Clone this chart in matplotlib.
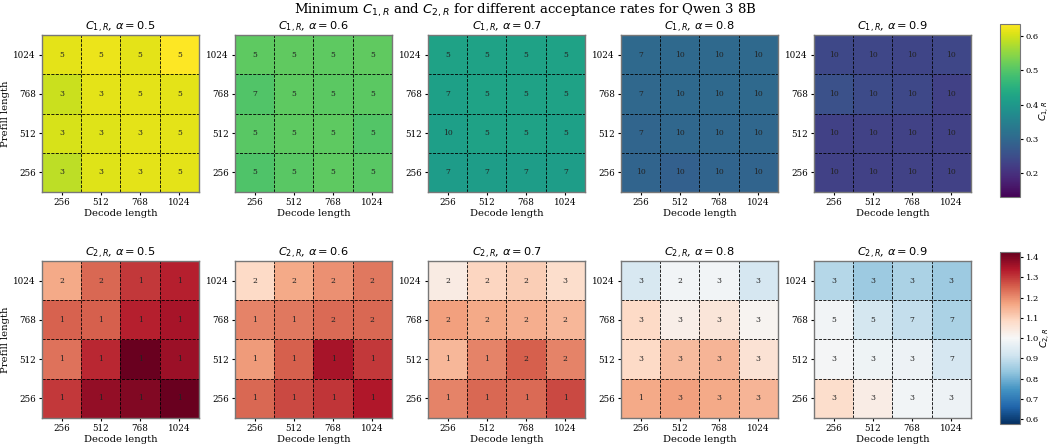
import numpy as np
import matplotlib
matplotlib.use("Agg")
import matplotlib.pyplot as plt

plt.rcParams['font.family'] = 'serif'
plt.rcParams['font.serif'] = ['DejaVu Serif']

lengths = [256, 512, 768, 1024]
alphas = [0.5, 0.6, 0.7, 0.8, 0.9]

# rows = prefill length 256..1024, cols = decode length 256..1024
c1_vals = {
    0.5: [[0.585, 0.610, 0.615, 0.615],
          [0.605, 0.610, 0.615, 0.615],
          [0.595, 0.615, 0.615, 0.615],
          [0.615, 0.620, 0.615, 0.635]],
    0.6: [[0.495, 0.505, 0.510, 0.505],
          [0.505, 0.510, 0.510, 0.500],
          [0.498, 0.510, 0.508, 0.508],
          [0.510, 0.512, 0.510, 0.512]],
    0.7: [[0.410, 0.412, 0.412, 0.412],
          [0.415, 0.420, 0.420, 0.418],
          [0.418, 0.422, 0.420, 0.420],
          [0.420, 0.420, 0.420, 0.420]],
    0.8: [[0.292, 0.285, 0.292, 0.292],
          [0.295, 0.298, 0.298, 0.298],
          [0.300, 0.302, 0.302, 0.302],
          [0.302, 0.302, 0.302, 0.302]],
    0.9: [[0.228, 0.228, 0.230, 0.228],
          [0.228, 0.230, 0.230, 0.228],
          [0.255, 0.245, 0.240, 0.228],
          [0.240, 0.238, 0.235, 0.238]],
}
c1_k = {
    0.5: [[3, 3, 3, 5], [3, 3, 3, 5], [3, 3, 5, 5], [5, 5, 5, 5]],
    0.6: [[5, 5, 5, 5], [5, 5, 5, 5], [7, 5, 5, 5], [5, 5, 5, 5]],
    0.7: [[7, 7, 7, 7], [10, 5, 5, 5], [7, 5, 5, 5], [5, 5, 5, 5]],
    0.8: [[10, 10, 10, 10], [7, 10, 10, 10], [7, 10, 10, 10], [7, 10, 10, 10]],
    0.9: [[10, 10, 10, 10], [10, 10, 10, 10], [10, 10, 10, 10], [10, 10, 10, 10]],
}

c2_vals = {
    0.5: [[1.300, 1.375, 1.395, 1.420],
          [1.230, 1.320, 1.420, 1.365],
          [1.250, 1.255, 1.330, 1.350],
          [1.160, 1.245, 1.300, 1.330]],
    0.6: [[1.245, 1.280, 1.305, 1.340],
          [1.180, 1.255, 1.350, 1.300],
          [1.210, 1.225, 1.240, 1.245],
          [1.085, 1.160, 1.195, 1.225]],
    0.7: [[1.210, 1.245, 1.240, 1.280],
          [1.140, 1.210, 1.255, 1.210],
          [1.175, 1.160, 1.155, 1.140],
          [1.035, 1.090, 1.105, 1.075]],
    0.8: [[1.160, 1.175, 1.160, 1.145],
          [1.085, 1.135, 1.145, 1.060],
          [1.085, 1.025, 1.050, 1.010],
          [0.932, 0.990, 0.990, 0.930]],
    0.9: [[1.075, 1.030, 0.990, 0.980],
          [0.995, 0.983, 0.980, 0.930],
          [0.990, 0.925, 0.900, 0.864],
          [0.880, 0.847, 0.864, 0.847]],
}
c2_k = {
    0.5: [[1, 1, 1, 1], [1, 1, 1, 1], [1, 1, 1, 1], [2, 2, 1, 1]],
    0.6: [[1, 1, 1, 1], [1, 1, 1, 1], [1, 1, 2, 2], [2, 2, 2, 2]],
    0.7: [[1, 1, 1, 1], [1, 1, 2, 2], [2, 2, 2, 2], [2, 2, 2, 3]],
    0.8: [[1, 3, 3, 3], [3, 3, 3, 3], [3, 3, 3, 3], [3, 2, 3, 3]],
    0.9: [[3, 3, 3, 3], [3, 3, 3, 7], [5, 5, 7, 7], [3, 3, 3, 3]],
}

fig = plt.figure(figsize=(10.5, 4.46), dpi=100)

left0, step, w = 0.040, 0.1838, 0.1495
rows = [
    (0.5695, c1_vals, c1_k, 'viridis', 0.13, 0.635, r'$C_{1,R}$', '1'),
    (0.0628, c2_vals, c2_k, 'RdBu_r', 0.575, 1.425, r'$C_{2,R}$', '2'),
]

for bottom, vals, ks, cmap, vmin, vmax, cblabel, idx in rows:
    im = None
    for i, a in enumerate(alphas):
        ax = fig.add_axes([left0 + i * step, bottom, w, 0.352])
        data = np.array(vals[a])
        im = ax.imshow(data, cmap=cmap, vmin=vmin, vmax=vmax, origin='lower',
                       aspect='auto')
        for r in range(4):
            for c in range(4):
                ax.text(c, r, str(ks[a][r][c]), ha='center', va='center',
                        fontsize=5.5, color='#222222')
        for p in np.arange(0.5, 3.5, 1.0):
            ax.axhline(p, color='black', ls='--', lw=0.6)
            ax.axvline(p, color='black', ls='--', lw=0.6)
        ax.set_xticks(range(4))
        ax.set_xticklabels(lengths, fontsize=6.3)
        ax.set_yticks(range(4))
        ax.set_yticklabels(lengths, fontsize=6.3)
        ax.set_xlabel('Decode length', fontsize=7.2, labelpad=1)
        if i == 0:
            ax.set_ylabel('Prefill length', fontsize=7.2, labelpad=2)
        ax.set_title(r'$C_{%s,R}$, $\alpha = %.1f$' % (idx, a), fontsize=8.2, pad=2)
        for s in ax.spines.values():
            s.set_color('#777777')
            s.set_linewidth(1.0)
        ax.tick_params(length=2.5, pad=2)
    if idx == '1':
        cax = fig.add_axes([0.9525, 0.558, 0.019, 0.388])
        ticks = [0.2, 0.3, 0.4, 0.5, 0.6]
    else:
        cax = fig.add_axes([0.9525, 0.049, 0.019, 0.386])
        ticks = [0.6, 0.7, 0.8, 0.9, 1.0, 1.1, 1.2, 1.3, 1.4]
    cb = fig.colorbar(im, cax=cax, ticks=ticks)
    cb.ax.tick_params(labelsize=6, length=2.5, pad=1.5)
    cb.outline.set_edgecolor('#777777')
    cb.set_label(cblabel, fontsize=6.8, labelpad=-1)

fig.suptitle(r'Minimum $C_{1,R}$ and $C_{2,R}$ for different acceptance rates for Qwen 3 8B',
             fontsize=9.5, y=0.995)

fig.savefig('out.png', dpi=100)
